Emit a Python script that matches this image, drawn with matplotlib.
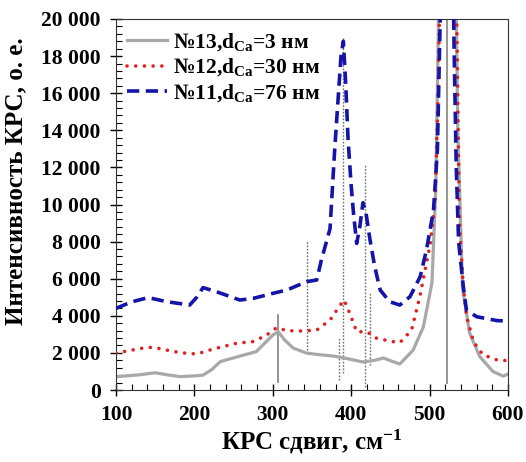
import matplotlib
matplotlib.use('Agg')
import matplotlib.pyplot as plt
from matplotlib.ticker import MultipleLocator, FuncFormatter

plt.rcParams['font.family'] = ['Liberation Serif', 'DejaVu Serif']
plt.rcParams['font.weight'] = 'bold'
plt.rcParams['axes.labelweight'] = 'bold'
plt.rcParams['mathtext.fontset'] = 'custom'
plt.rcParams['mathtext.rm'] = 'Liberation Serif:bold'
plt.rcParams['mathtext.bf'] = 'Liberation Serif:bold'
plt.rcParams['mathtext.it'] = 'Liberation Serif:bold'

# sample №13 (3 nm)
x13 = [100, 110, 130, 150, 165, 182, 200, 211, 222, 233, 254, 279, 300, 307, 315, 326,
       343, 360, 377, 394, 415, 430, 441, 452, 462, 479, 492, 503, 508, 512, 521, 531,
       536, 542, 551, 564, 581, 594, 600]
y13 = [720, 750, 820, 930, 820, 720, 760, 800, 1100, 1530, 1780, 2070, 2960, 3140, 2700, 2260,
       1990, 1900, 1830, 1700, 1510, 1600, 1725, 1550, 1400, 2150, 3400, 5770, 11000, 22000, 60000, 30000,
       14000, 5500, 3070, 1800, 990, 750, 860]

# sample №12 (30 nm)
x12 = [100, 120, 137, 148, 165, 182, 203, 224, 254, 275, 292, 305, 318, 335, 356, 373,
       386, 391, 398, 407, 420, 432, 449, 462, 477, 488, 501, 507, 511, 514, 521, 531,
       535, 538, 543, 547, 556, 568, 586, 600]
y12 = [1990, 2150, 2280, 2300, 2150, 2010, 1940, 2210, 2520, 2610, 2960, 3360, 3200, 3180, 3230, 3770,
       4580, 4850, 4150, 3140, 3140, 2800, 2640, 2550, 3230, 5120, 7920, 10240, 16000, 24000, 80000, 30000,
       19000, 9000, 5570, 4000, 2600, 1900, 1620, 1580]

# sample №11 (76 nm)
x11 = [100, 105, 120, 141, 165, 194, 203, 211, 228, 258, 275, 300, 318, 343, 356, 362,
       373, 379, 383, 387, 390, 393, 396, 400, 403, 407, 411, 415, 419, 424, 430, 437,
       449, 462, 475, 488, 496, 505, 510, 514, 521, 528, 531, 534, 537, 543, 547, 560, 586, 600]
y11 = [4400, 4490, 4750, 4980, 4760, 4580, 5000, 5520, 5300, 4850, 4940, 5210, 5390, 5840, 5930, 7010,
       8700, 13000, 15500, 18000, 18800, 16500, 13500, 11000, 9500, 7900, 8800, 10100, 9500, 8100, 6650, 5390,
       4760, 4580, 5030, 6110, 7550, 9700, 13000, 21000, 60000, 30000, 19000, 12000, 8000, 5570, 4310, 3950, 3740, 3720]

labels = [r'№13,$\mathbf{d_{Ca}}$=3 нм', r'№12,$\mathbf{d_{Ca}}$=30 нм', r'№11,$\mathbf{d_{Ca}}$=76 нм']

# reference lines
solid_x = [307, 522]
solid_lo = [450, 400]
solid_hi = [4040, 20000]
dotted_x = [344, 384, 390, 417, 424]
dotted_lo = [2160, 540, 900, 180, 1350]
dotted_hi = [8090, 2870, 19000, 12130, 5300]

fig = plt.figure(figsize=(5.26, 4.62), dpi=100)
ax = fig.add_axes([116 / 526, 1 - 390 / 462, 392 / 526, 371 / 462])

for xv, lo, hi in zip(solid_x, solid_lo, solid_hi):
    ax.plot([xv, xv], [lo, hi], color='#8c8c8c', lw=1.3, zorder=1)
for xv, lo, hi in zip(dotted_x, dotted_lo, dotted_hi):
    ax.plot([xv, xv], [lo, hi], color='#707070', lw=1.0, ls=(0, (1.2, 1.2)), zorder=1)

ax.plot(x13, y13, color='#a8a8a8', lw=2.3, label=labels[0], zorder=2)
ax.plot(x12, y12, color='#e02020', lw=2.6, ls=(0, (0.01, 2.4)), dash_capstyle='round',
        label=labels[1], zorder=3)
ax.plot(x11, y11, color='#1414a8', lw=2.6, ls=(0, (3.4, 1.8)), label=labels[2], zorder=4)

ax.set_xlim(100, 600)
ax.set_ylim(0, 20000)
ax.xaxis.set_major_locator(MultipleLocator(100))
ax.xaxis.set_minor_locator(MultipleLocator(20))
ax.yaxis.set_major_locator(MultipleLocator(2000))
ax.yaxis.set_minor_locator(MultipleLocator(400))
ax.yaxis.set_major_formatter(FuncFormatter(lambda v, p: f'{int(v):,}'.replace(',', ' ')))
ax.tick_params(which='major', direction='inout', length=8, width=1, labelsize=15.5)
ax.tick_params(which='minor', direction='in', length=4, width=0.8)
ax.tick_params(axis='y', which='major', pad=7)
ax.tick_params(axis='x', which='major', pad=7)
for s in ax.spines.values():
    s.set_color('#333333')

ax.set_xlabel(r'КРС сдвиг, см$^{\mathbf{-1}}$', fontsize=18, fontweight='bold', labelpad=2)
ax.set_ylabel('Интенсивность КРС, о. е.', fontsize=18, fontweight='bold')
ax.yaxis.set_label_coords(-0.227, 0.563)

ax.legend(loc='upper left', frameon=False, fontsize=15.5, handlelength=1.85, handletextpad=0.3,
          borderaxespad=0.1, labelspacing=0.15, bbox_to_anchor=(0.0, 0.995))

fig.savefig('out.png', dpi=100)
